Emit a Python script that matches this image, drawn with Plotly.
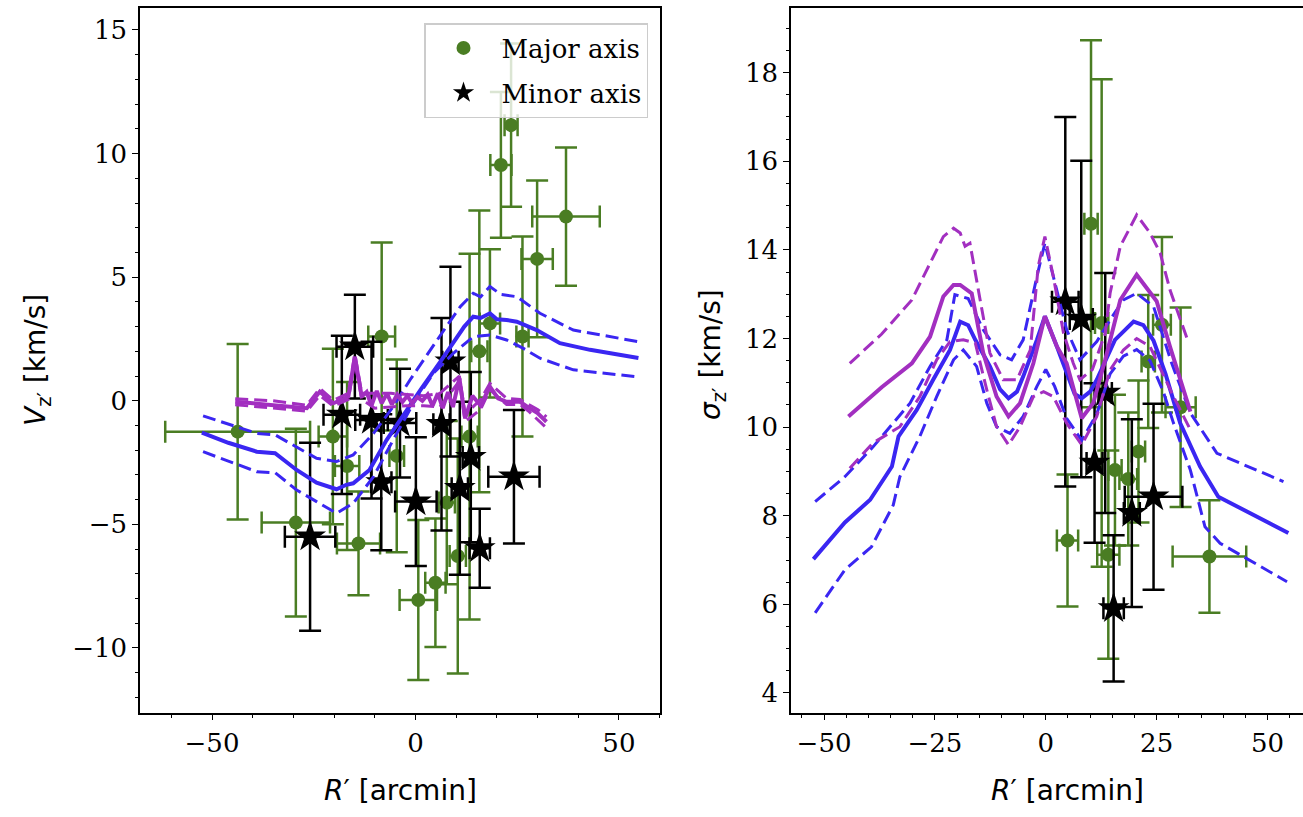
import plotly.graph_objects as go

# ---------------- Left panel: mean velocity V_z' ----------------
major_v_x = [-43.7, -29.4, -20.3, -16.8, -14.0, -8.3, -4.6, 0.7, 4.9, 7.7, 10.4, 13.3, 15.7, 18.3, 21.0, 23.5, 26.3, 29.9, 37.0]
major_v_y = [-1.25, -4.93, -1.45, -2.64, -5.77, 2.6, -2.23, -8.06, -7.36, -4.12, -6.28, -1.45, 2.0, 3.13, 9.54, 11.15, 2.6, 5.74, 7.45]
major_v_xerr = [17.8, 8.4, 3.5, 3.0, 5.3, 3.3, 1.8, 4.6, 2.5, 2.0, 2.0, 2.0, 2.0, 2.5, 2.6, 1.6, 1.5, 3.85, 8.3]
major_v_yerr = [3.55, 3.8, 3.55, 3.4, 2.1, 3.8, 3.9, 3.24, 2.6, 3.3, 4.75, 7.4, 5.7, 3.0, 2.95, 3.3, 4.05, 3.17, 2.8]

minor_v_x = [-25.9, -18.1, -14.9, -10.8, -8.4, -3.8, 0.1, 6.4, 8.6, 10.9, 13.6, 15.8, 24.2]
minor_v_y = [-5.5, -0.57, 2.19, -0.78, -3.3, -0.9, -4.08, -0.95, 1.58, -3.54, -2.28, -5.97, -3.07]
minor_v_xerr = [6.2, 4.5, 4.5, 4.0, 2.5, 4.0, 5.1, 2.0, 2.0, 2.0, 2.0, 2.5, 6.3]
minor_v_yerr = [3.8, 3.2, 2.1, 3.17, 2.75, 2.2, 2.6, 4.3, 3.84, 3.5, 3.44, 1.6, 2.7]

model_v_x = [-52.5, -46, -39.0, -34.5, -29.2, -24.3, -19.4, -17, -15.3, -11.3, -7.1, -2.2, 1.5, 6.0, 9.3, 12, 14.2, 16, 18.3, 20, 22.4, 24.9, 29.8, 35.5, 42.9, 54.8]
model_v_y = [-1.29, -1.7, -2.06, -2.12, -2.8, -3.31, -3.58, -3.4, -3.34, -2.8, -1.59, -0.37, 0.5, 1.55, 2.33, 3.0, 3.4, 3.35, 3.54, 3.3, 3.27, 3.2, 2.86, 2.33, 2.06, 1.73]
model_v_hi_x = [-52.2, -45, -39.0, -34.5, -29.2, -24.3, -19.4, -15.3, -10.3, -5.5, -1.35, 3.6, 8, 11, 14.2, 16, 18.3, 21, 24.9, 30.6, 38.8, 54.8]
model_v_hi_y = [-0.61, -1.0, -1.32, -1.38, -1.86, -2.33, -2.46, -2.19, -1.32, -0.24, 0.84, 2.06, 3.1, 3.8, 4.35, 4.2, 4.62, 4.3, 4.21, 3.54, 2.86, 2.39]
model_v_lo_x = [-52.2, -45, -39.0, -34.5, -29.2, -24.3, -19.4, -15.3, -10.3, -5.5, -0.5, 4.4, 9.3, 14.2, 18.3, 22.4, 26.5, 30.6, 38.8, 54.4]
model_v_lo_y = [-2.06, -2.5, -2.87, -2.91, -3.61, -4.08, -4.55, -4.15, -3.07, -1.59, -0.1, 1.11, 1.92, 2.59, 2.66, 2.46, 2.12, 1.72, 1.25, 0.97]

nr_v_x = [-44.3, -40, -35, -30, -26.7, -23.5, -20.2, -18, -16.5, -14.9, -13.2, -12, -10.8, -9.5, -8.3, -7, -5.8, -4.5, -3.2, -2, -0.8, 0.5, 1.7, 3, 4.2, 5.5, 6.7, 8, 9.2, 10.8, 12.2, 14, 16, 18.3, 20.3, 22.4, 25.7, 28, 30, 32.2]
nr_v_y = [-0.04, -0.1, -0.15, -0.25, -0.3, 0.37, -0.1, 0.05, 0.17, 1.78, 0.17, 0.35, -0.2, 0.4, -0.1, 0.3, -0.15, 0.25, -0.05, 0.2, -0.1, 0.15, 0.0, 0.25, -0.2, 0.3, -0.3, 0.35, -0.25, 0.91, -0.71, 0.2, -0.2, 0.57, 0.1, -0.04, -0.04, -0.3, -0.5, -0.85]
nr_v_band_x = [-44.3, -35, -26.7, -23.5, -20.2, -16.5, -14.9, -13.2, -10, -6, -2, 2, 6, 10.8, 12.2, 16, 18.3, 22.4, 25.7, 28, 30, 32.2]
nr_v_hi_y = [0.08, 0.0, -0.18, 0.5, 0.02, 0.3, 1.9, 0.3, 0.3, 0.3, 0.25, 0.2, 0.3, 1.0, -0.55, 0.05, 0.7, 0.1, 0.05, -0.15, -0.35, -0.65]
nr_v_lo_y = [-0.16, -0.3, -0.42, 0.22, -0.22, 0.05, 1.6, 0.05, -0.3, -0.25, -0.2, -0.2, -0.25, 0.8, -0.85, -0.35, 0.45, -0.15, -0.15, -0.45, -0.75, -1.1]

# ---------------- Right panel: dispersion sigma_z' ----------------
major_s_x = [4.9, 10.2, 12.6, 14.1, 15.6, 18.6, 20.9, 23.1, 26.2, 30.4, 36.9]
major_s_y = [7.44, 14.59, 12.35, 7.12, 9.03, 8.83, 9.45, 11.48, 12.31, 10.45, 7.08]
major_s_xerr = [2.4, 1.5, 1.5, 2.5, 1.5, 2.0, 1.5, 1.5, 2.0, 3.4, 8.3]
major_s_yerr = [1.49, 4.14, 5.5, 2.35, 1.7, 1.5, 1.6, 1.5, 1.98, 2.25, 1.27]

minor_s_x = [4.4, 8.0, 11.0, 13.4, 15.3, 19.4, 24.3]
minor_s_y = [12.83, 12.44, 9.19, 10.77, 5.91, 8.06, 8.43]
minor_s_xerr = [3.0, 2.6, 1.8, 1.5, 2.3, 1.8, 6.5]
minor_s_yerr = [4.17, 3.57, 1.8, 2.71, 1.65, 2.12, 2.1]

model_s_x = [-52.4, -45.3, -39.6, -34.7, -33.2, -29.1, -25.4, -21.6, -19.3, -17.5, -15.9, -12.6, -10.3, -8.4, -6.5, -5.1, -2.0, -0.2, 2.5, 4.7, 6.5, 8.1, 10, 11.5, 15.6, 19.8, 22, 24.3, 27.0, 30.3, 34.8, 38.9, 54.7]
model_s_y = [7.02, 7.85, 8.36, 9.11, 9.79, 10.39, 11.07, 11.74, 12.38, 12.3, 11.97, 11.37, 10.85, 10.65, 10.8, 11.14, 11.97, 12.5, 11.82, 11.2, 10.75, 10.65, 10.8, 11.07, 11.97, 12.38, 12.3, 11.95, 11.2, 10.09, 9.11, 8.43, 7.61]
model_s_hi_x = [-52.0, -45.3, -38.9, -35.1, -30.6, -26.1, -22.3, -20.5, -17.5, -14.1, -10.3, -7.7, -5.1, -2.0, -0.2, 1.7, 4.7, 7.7, 11.5, 14.5, 17.5, 20.5, 24.3, 28.4, 32.6, 38.6, 53.6]
model_s_hi_y = [8.32, 8.88, 9.56, 10.01, 10.54, 11.37, 11.97, 12.99, 12.9, 12.2, 11.63, 11.52, 11.97, 13.4, 14.15, 13.4, 12.2, 11.52, 11.93, 12.42, 12.87, 13.02, 12.72, 11.44, 10.32, 9.41, 8.77]
model_s_lo_x = [-52.0, -45.3, -39.3, -34.4, -32.9, -28.4, -24.6, -20.8, -18.6, -15.6, -13.3, -11.1, -8.1, -5.1, -2.0, 0.0, 2.0, 4.7, 8.1, 11.5, 14.5, 17.5, 20.5, 23.5, 26.5, 28.8, 32.6, 35.9, 39.3, 54.4]
model_s_lo_y = [5.81, 6.78, 7.3, 8.24, 8.88, 9.79, 10.69, 11.52, 11.74, 11.37, 10.54, 10.01, 9.86, 10.24, 10.92, 11.3, 10.92, 10.2, 9.7, 10.3, 11.2, 11.6, 11.75, 11.5, 10.8, 10.09, 9.03, 7.75, 7.38, 6.51]

nr_s_x = [-44.5, -37, -30.2, -26.1, -23.1, -20.8, -19.3, -16.7, -14.1, -11.1, -8.4, -5.8, -2.8, -0.2, 2.5, 4.7, 8.1, 10.7, 13.4, 16.8, 20.5, 25.0, 28.0, 32.6]
nr_s_y = [10.24, 10.9, 11.44, 12.04, 12.95, 13.21, 13.21, 13.02, 11.67, 10.69, 10.24, 10.54, 11.44, 12.5, 11.82, 11.44, 10.2, 10.54, 11.52, 12.87, 13.44, 12.84, 11.82, 10.35]
nr_s_hi_x = [-44.2, -37, -30.2, -26.1, -23.1, -20.8, -19.3, -18.2, -17.1, -14.8, -12.6, -9.6, -6.5, -3.5, -1.7, -0.2, 1.7, 4.0, 6.2, 7.7, 10.5, 13.4, 14.5, 16.8, 20.5, 23.5, 25.8, 28.0, 32.2]
nr_s_hi_y = [11.44, 12.1, 12.87, 13.7, 14.3, 14.49, 14.38, 14.08, 14.15, 12.87, 11.67, 11.07, 11.07, 11.74, 13.63, 14.3, 13.4, 12.12, 11.44, 11.07, 11.3, 12.12, 13.02, 14.08, 14.79, 14.38, 13.93, 13.1, 11.9]
nr_s_lo_x = [-44.2, -39.0, -32.9, -28.4, -24.6, -21.6, -18.6, -15.9, -13.3, -11.1, -8.4, -5.8, -2.8, -0.5, 1.7, 4.7, 8.1, 11.5, 14.5, 17.5, 20.5, 23.5, 28.8, 32.6]
nr_s_lo_y = [9.07, 9.64, 10.01, 10.69, 11.52, 11.93, 11.97, 11.9, 10.84, 10.01, 9.6, 10.01, 10.69, 10.8, 10.69, 10.09, 9.6, 10.24, 11.29, 11.74, 12.0, 11.82, 10.69, 9.94]

# ---------------- Style ----------------
GREEN = "#4a7d23"
BLACK = "#000000"
BLUE = "#3a26f2"
PURPLE = "#a22fc0"
W, H = 1303, 817
SERIF = "DejaVu Serif"
SANS = "DejaVu Sans"
DASH = "13px,6px"


def errbar(vals, color):
    return dict(type="data", array=vals, color=color, thickness=2.5, width=11)


fig = go.Figure()


def add_points(x, y, xerr, yerr, xa, ya, name, legend):
    is_major = name == "Major axis"
    color = GREEN if is_major else BLACK
    fig.add_trace(go.Scatter(
        x=x, y=y, mode="markers", name=name, xaxis=xa, yaxis=ya,
        legendgroup=name, showlegend=legend,
        marker=dict(symbol="circle" if is_major else "star",
                    size=14 if is_major else 24, color=color,
                    line=dict(width=0)),
        error_x=errbar(xerr, color), error_y=errbar(yerr, color),
    ))


def add_line(x, y, xa, ya, color, dash, width):
    fig.add_trace(go.Scatter(
        x=x, y=y, mode="lines", xaxis=xa, yaxis=ya, showlegend=False,
        line=dict(color=color, dash=dash, width=width), hoverinfo="skip",
    ))


add_points(major_v_x, major_v_y, major_v_xerr, major_v_yerr, "x", "y", "Major axis", True)
add_points(minor_v_x, minor_v_y, minor_v_xerr, minor_v_yerr, "x", "y", "Minor axis", True)
add_line(model_v_x, model_v_y, "x", "y", BLUE, "solid", 4)
add_line(model_v_hi_x, model_v_hi_y, "x", "y", BLUE, DASH, 3)
add_line(model_v_lo_x, model_v_lo_y, "x", "y", BLUE, DASH, 3)
add_line(nr_v_x, nr_v_y, "x", "y", PURPLE, "solid", 4)
add_line(nr_v_band_x, nr_v_hi_y, "x", "y", PURPLE, DASH, 3)
add_line(nr_v_band_x, nr_v_lo_y, "x", "y", PURPLE, DASH, 3)

add_points(major_s_x, major_s_y, major_s_xerr, major_s_yerr, "x2", "y2", "Major axis", False)
add_points(minor_s_x, minor_s_y, minor_s_xerr, minor_s_yerr, "x2", "y2", "Minor axis", False)
add_line(model_s_x, model_s_y, "x2", "y2", BLUE, "solid", 4)
add_line(model_s_hi_x, model_s_hi_y, "x2", "y2", BLUE, DASH, 3)
add_line(model_s_lo_x, model_s_lo_y, "x2", "y2", BLUE, DASH, 3)
add_line(nr_s_x, nr_s_y, "x2", "y2", PURPLE, "solid", 4)
add_line(nr_s_hi_x, nr_s_hi_y, "x2", "y2", PURPLE, DASH, 3)
add_line(nr_s_lo_x, nr_s_lo_y, "x2", "y2", PURPLE, DASH, 3)

y_dom = [(H - 712.7) / H, (H - 7.5) / H]
tickfont = dict(family=SERIF, size=26, color="black")


def axis(dom, rng, dtick, minor_dtick, anchor, mirror):
    return dict(
        domain=dom, range=rng, anchor=anchor, dtick=dtick, tick0=0,
        showgrid=False, zeroline=False, showline=True, linecolor="black",
        linewidth=1.5, mirror=mirror, ticks="outside", ticklen=6,
        tickwidth=1.3, tickcolor="black", tickfont=tickfont, tickformat="d",
        minor=dict(dtick=minor_dtick, tick0=0, ticks="outside", ticklen=3.5,
                   tickwidth=1, tickcolor="black", showgrid=False),
    )


fig.update_layout(
    width=W, height=H, margin=dict(l=0, r=0, t=0, b=0),
    paper_bgcolor="white", plot_bgcolor="white",
    xaxis=axis([140 / W, 660 / W], [-67.7, 60.1], 50, 10, "y", True),
    yaxis=axis(y_dom, [-12.62, 15.91], 5, 1, "x", True),
    xaxis2=axis([791 / W, 1.0], [-57.45, 58.0], 25, 5, "y2", True),
    yaxis2=axis(y_dom, [3.555, 19.47], 2, 0.5, "x2", False),
    legend=dict(
        x=648 / W, xanchor="right", y=(H - 23) / H, yanchor="top",
        bgcolor="rgba(255,255,255,0.8)", bordercolor="#cccccc", borderwidth=1.5,
        font=dict(family=SERIF, size=26, color="black"),
        itemwidth=66, tracegroupgap=8,
    ),
    showlegend=True,
)

label_font = dict(family=SANS, size=28, color="black")
common = dict(xref="paper", yref="paper", showarrow=False, font=label_font,
              xanchor="center", yanchor="middle")
fig.add_annotation(text="<i>R</i>′ [arcmin]", x=400 / W, y=(H - 790) / H, **common)
fig.add_annotation(text="<i>R</i>′ [arcmin]", x=1067 / W, y=(H - 790) / H, **common)
fig.add_annotation(text="<i>V</i><sub>z′</sub> [km/s]", x=38 / W, y=(H - 360) / H,
                   textangle=-90, **common)
fig.add_annotation(text="<i>σ</i><sub>z′</sub> [km/s]", x=712 / W, y=(H - 355) / H,
                   textangle=-90, **common)

fig.write_html("out.html")
